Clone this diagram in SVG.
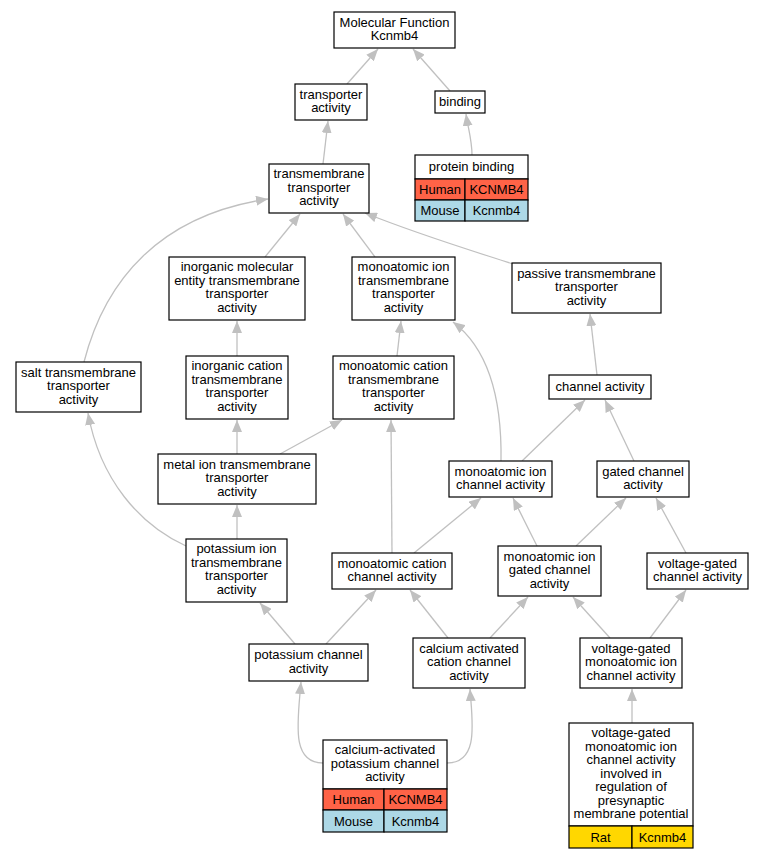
<svg xmlns="http://www.w3.org/2000/svg" width="764" height="859" viewBox="0 0 764 859">
<style>
.n rect{fill:#fff;stroke:#000;stroke-width:1.2}
text{font-family:"Liberation Sans",Arial,sans-serif;font-size:13px;text-anchor:middle;fill:#000}
.e path{fill:none;stroke:#c0c0c0;stroke-width:1.3}
rect.hu{fill:#ff6347;stroke:#000;stroke-width:1.2}
rect.mo{fill:#add8e6;stroke:#000;stroke-width:1.2}
rect.ra{fill:#ffd700;stroke:#000;stroke-width:1.2}
</style>
<defs>
<marker id="a" viewBox="0 0 12 10" refX="12" refY="5" markerWidth="12" markerHeight="10" markerUnits="userSpaceOnUse" orient="auto">
<path d="M0,0 L12,5 L0,10 z" fill="#c0c0c0"/>
</marker>
</defs>
<rect width="764" height="859" fill="#fff"/>
<g class="e">
<path marker-end="url(#a)" d="M347,84 L378,49"/>
<path marker-end="url(#a)" d="M450,91 L413,49"/>
<path marker-end="url(#a)" d="M472,155 C472,140 468,128 466,114"/>
<path marker-end="url(#a)" d="M323,164 L328,121"/>
<path marker-end="url(#a)" d="M265,257 L300,214"/>
<path marker-end="url(#a)" d="M375,257 L343,214"/>
<path marker-end="url(#a)" d="M513,264 C470,250 420,235 365,213"/>
<path marker-end="url(#a)" d="M84,362 C105,280 160,215 268,199"/>
<path marker-end="url(#a)" d="M237,356 L237,321"/>
<path marker-end="url(#a)" d="M237,454 L237,420"/>
<path marker-end="url(#a)" d="M280,454 L342,420"/>
<path marker-end="url(#a)" d="M237,539 L237,505"/>
<path marker-end="url(#a)" d="M186,546 C140,525 100,480 88,413"/>
<path marker-end="url(#a)" d="M397,356 L401,321"/>
<path marker-end="url(#a)" d="M392,553 L391,420"/>
<path marker-end="url(#a)" d="M501,461 C502,400 490,350 453,322"/>
<path marker-end="url(#a)" d="M522,461 L585,400"/>
<path marker-end="url(#a)" d="M597,375 L590,314"/>
<path marker-end="url(#a)" d="M634,461 L605,400"/>
<path marker-end="url(#a)" d="M414,553 L481,498"/>
<path marker-end="url(#a)" d="M537,546 L513,498"/>
<path marker-end="url(#a)" d="M576,546 L626,498"/>
<path marker-end="url(#a)" d="M686,553 L656,498"/>
<path marker-end="url(#a)" d="M295,644 L260,603"/>
<path marker-end="url(#a)" d="M326,644 L376,590"/>
<path marker-end="url(#a)" d="M448,638 L410,590"/>
<path marker-end="url(#a)" d="M490,638 L528,597"/>
<path marker-end="url(#a)" d="M610,638 L573,597"/>
<path marker-end="url(#a)" d="M650,638 L686,590"/>
<path marker-end="url(#a)" d="M323,763 C290,763 298,720 301,682"/>
<path marker-end="url(#a)" d="M447,763 C480,763 472,720 470,689"/>
<path marker-end="url(#a)" d="M632,723 L632,689"/>
</g>
<g id="mf" class="n"><rect x="334" y="12" width="121" height="36"/><text x="394.5" y="26.5">Molecular Function</text><text x="394.5" y="40">Kcnmb4</text></g>
<g id="transporter" class="n"><rect x="295" y="84" width="72" height="36"/><text x="331" y="98.5">transporter</text><text x="331" y="112">activity</text></g>
<g id="binding" class="n"><rect x="435" y="91" width="50" height="22"/><text x="460" y="106">binding</text></g>
<g id="protein-binding" class="n"><rect x="415" y="155" width="113" height="24"/><text x="471.5" y="171">protein binding</text>
<rect class="hu" x="415" y="179" width="50" height="21"/><rect class="hu" x="465" y="179" width="63" height="21"/><text x="440" y="194">Human</text><text x="496.5" y="194">KCNMB4</text>
<rect class="mo" x="415" y="200" width="50" height="21"/><rect class="mo" x="465" y="200" width="63" height="21"/><text x="440" y="215">Mouse</text><text x="496.5" y="215">Kcnmb4</text></g>
<g id="tmt" class="n"><rect x="269" y="164" width="100" height="49"/><text x="319" y="178">transmembrane</text><text x="319" y="191.5">transporter</text><text x="319" y="205">activity</text></g>
<g id="imetmt" class="n"><rect x="169" y="257" width="136" height="63"/><text x="237" y="271">inorganic molecular</text><text x="237" y="284.5">entity transmembrane</text><text x="237" y="298">transporter</text><text x="237" y="311.5">activity</text></g>
<g id="salt" class="n"><rect x="16" y="362" width="125" height="50"/><text x="78.5" y="376.5">salt transmembrane</text><text x="78.5" y="390">transporter</text><text x="78.5" y="403.5">activity</text></g>
<g id="ictmt" class="n"><rect x="186" y="356" width="102" height="63"/><text x="237" y="370">inorganic cation</text><text x="237" y="383.5">transmembrane</text><text x="237" y="397">transporter</text><text x="237" y="410.5">activity</text></g>
<g id="metal" class="n"><rect x="158" y="454" width="158" height="50"/><text x="237" y="468.5">metal ion transmembrane</text><text x="237" y="482">transporter</text><text x="237" y="495.5">activity</text></g>
<g id="mitmt" class="n"><rect x="352" y="257" width="103" height="63"/><text x="403.5" y="271">monoatomic ion</text><text x="403.5" y="284.5">transmembrane</text><text x="403.5" y="298">transporter</text><text x="403.5" y="311.5">activity</text></g>
<g id="passive" class="n"><rect x="512" y="263" width="149" height="50"/><text x="586.5" y="277.5">passive transmembrane</text><text x="586.5" y="291">transporter</text><text x="586.5" y="304.5">activity</text></g>
<g id="mctmt" class="n"><rect x="333" y="356" width="121" height="63"/><text x="393.5" y="370">monoatomic cation</text><text x="393.5" y="383.5">transmembrane</text><text x="393.5" y="397">transporter</text><text x="393.5" y="410.5">activity</text></g>
<g id="channel" class="n"><rect x="549" y="375" width="102" height="24"/><text x="600" y="391">channel activity</text></g>
<g id="mica" class="n"><rect x="449" y="461" width="103" height="36"/><text x="500.5" y="475.5">monoatomic ion</text><text x="500.5" y="489">channel activity</text></g>
<g id="gated" class="n"><rect x="597" y="461" width="92" height="36"/><text x="643" y="475.5">gated channel</text><text x="643" y="489">activity</text></g>
<g id="kitmt" class="n"><rect x="186" y="539" width="101" height="63"/><text x="236.5" y="553">potassium ion</text><text x="236.5" y="566.5">transmembrane</text><text x="236.5" y="580">transporter</text><text x="236.5" y="593.5">activity</text></g>
<g id="mcca" class="n"><rect x="332" y="553" width="120" height="36"/><text x="392" y="567.5">monoatomic cation</text><text x="392" y="581">channel activity</text></g>
<g id="migca" class="n"><rect x="498" y="546" width="103" height="50"/><text x="549.5" y="560.5">monoatomic ion</text><text x="549.5" y="574">gated channel</text><text x="549.5" y="587.5">activity</text></g>
<g id="vgca" class="n"><rect x="647" y="553" width="101" height="36"/><text x="697.5" y="567.5">voltage-gated</text><text x="697.5" y="581">channel activity</text></g>
<g id="kca" class="n"><rect x="249" y="644" width="119" height="37"/><text x="308.5" y="659">potassium channel</text><text x="308.5" y="672.5">activity</text></g>
<g id="caca" class="n"><rect x="413" y="638" width="112" height="50"/><text x="469" y="652.5">calcium activated</text><text x="469" y="666">cation channel</text><text x="469" y="679.5">activity</text></g>
<g id="vgmica" class="n"><rect x="580" y="638" width="102" height="50"/><text x="631" y="652.5">voltage-gated</text><text x="631" y="666">monoatomic ion</text><text x="631" y="679.5">channel activity</text></g>
<g id="cakca" class="n"><rect x="323" y="740" width="124" height="49"/><text x="385" y="754">calcium-activated</text><text x="385" y="767.5">potassium channel</text><text x="385" y="781">activity</text>
<rect class="hu" x="323" y="789" width="61" height="21"/><rect class="hu" x="384" y="789" width="63" height="21"/><text x="353.5" y="804">Human</text><text x="415.5" y="804">KCNMB4</text>
<rect class="mo" x="323" y="810" width="61" height="22"/><rect class="mo" x="384" y="810" width="63" height="22"/><text x="353.5" y="825.5">Mouse</text><text x="415.5" y="825.5">Kcnmb4</text></g>
<g id="presyn" class="n"><rect x="569" y="723" width="124" height="103"/><text x="631" y="737">voltage-gated</text><text x="631" y="750.5">monoatomic ion</text><text x="631" y="764">channel activity</text><text x="631" y="777.5">involved in</text><text x="631" y="791">regulation of</text><text x="631" y="804.5">presynaptic</text><text x="631" y="818">membrane potential</text>
<rect class="ra" x="569" y="826" width="63" height="22"/><rect class="ra" x="632" y="826" width="61" height="22"/><text x="600.5" y="841.5">Rat</text><text x="662.5" y="841.5">Kcnmb4</text></g>
</svg>
